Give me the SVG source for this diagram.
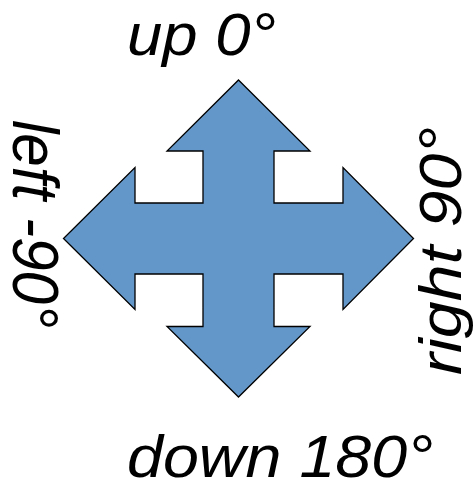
<svg xmlns="http://www.w3.org/2000/svg" width="473" height="483" viewBox="0 0 473 483">
<style>
.lbl{font-family:"Liberation Sans",Arial,sans-serif;font-style:italic;font-size:60px;fill:#000}
.arrow{fill:#6497C9;stroke:#000;stroke-width:1.3;stroke-linejoin:miter}
</style>
<rect width="473" height="483" fill="#fff"/>
<g id="quad-arrow">
<polygon class="arrow" points="238.5,80 310,151 274,151 274,203 343,203 343,167.5 413.5,238.5 343,309.5 343,274 274,274 274,326.5 310,326.5 238.5,397 167,326.5 203,326.5 203,274 135,274 135,309.5 63.5,238.5 135,167.5 135,203 203,203 203,151 167,151"/>
</g>
<g id="label-up"><text class="lbl" x="127" y="55" textLength="149" lengthAdjust="spacingAndGlyphs">up 0°</text></g>
<g id="label-down"><text class="lbl" x="127" y="477" textLength="306" lengthAdjust="spacingAndGlyphs">down 180°</text></g>
<g id="label-left"><text class="lbl" style="font-size:64px" transform="translate(13,120) rotate(90)" textLength="208" lengthAdjust="spacingAndGlyphs">left -90°</text></g>
<g id="label-right"><text class="lbl" transform="translate(461,375) rotate(-90)" textLength="248" lengthAdjust="spacingAndGlyphs">right 90°</text></g>
</svg>
